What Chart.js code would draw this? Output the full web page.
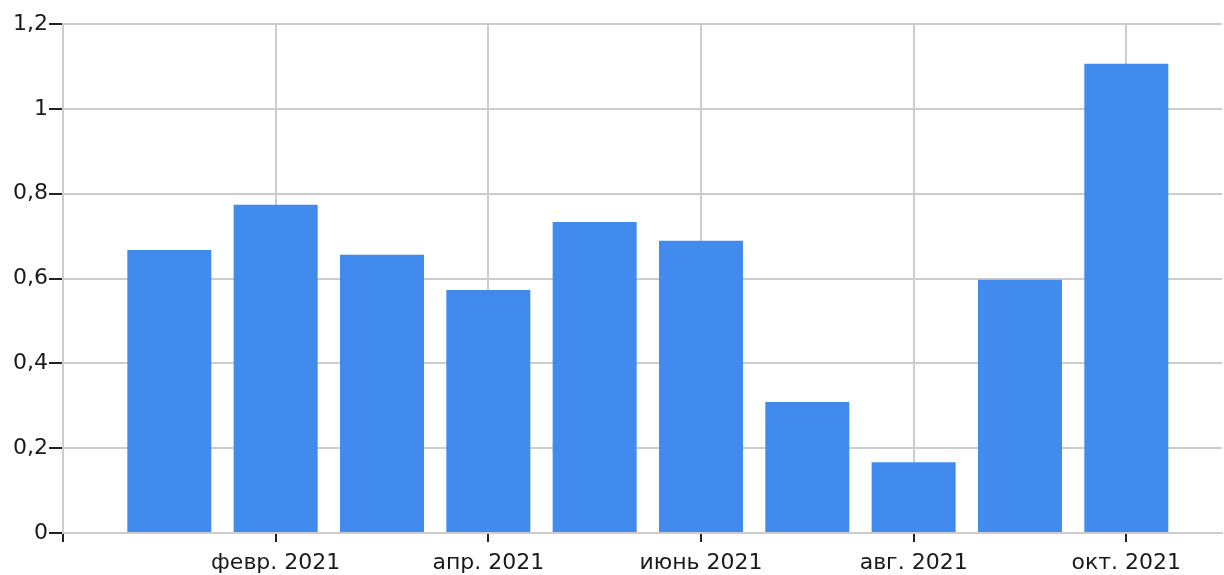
<!DOCTYPE html>
<html>
<head>
<meta charset="utf-8">
<script src="https://cdn.jsdelivr.net/npm/chart.js@4"></script>
<style>
  html, body { margin: 0; padding: 0; background: #fff; }
  #wrap { width: 1224px; height: 575px; }
</style>
</head>
<body>
<div id="wrap"><canvas id="barChart"></canvas></div>
<script>
'use strict';
// mois (index 0 = janv. 2021)
const mois = [0, 1, 2, 3, 4, 5, 6, 7, 8, 9];
const valeurs = [0.667, 0.774, 0.656, 0.573, 0.733, 0.689, 0.309, 0.167, 0.597, 1.106];
// ticks de l'axe x : position -> libellé
const ticksX = [-1, 1, 3, 5, 7, 9];
const labelsX = ['', 'февр. 2021', 'апр. 2021', 'июнь 2021', 'авг. 2021', 'окт. 2021'];
const ticksY = [0, 0.2, 0.4, 0.6, 0.8, 1, 1.2];

const police = { family: 'DejaVu Sans', size: 22 };

const ctx = document.getElementById('barChart').getContext('2d');
const barChart = new Chart(ctx, {
  type: 'bar',
  data: {
    datasets: [{
      data: mois.map((m, i) => ({ x: m, y: valeurs[i] })),
      backgroundColor: '#418bef',
      borderWidth: 0,
      barPercentage: 1,
      categoryPercentage: 0.79
    }]
  },
  options: {
    responsive: true,
    maintainAspectRatio: false,
    animation: false,
    layout: { padding: { top: 24, right: 2, left: 0, bottom: 0 } },
    plugins: { legend: { display: false }, tooltip: { enabled: false } },
    scales: {
      x: {
        type: 'linear',
        min: -1,
        max: 9.9,
        offset: false,
        afterFit: s => { s.height = 42; },
        afterBuildTicks: s => { s.ticks = ticksX.map(v => ({ value: v })); },
        ticks: {
          autoSkip: false,
          maxRotation: 0,
          padding: 8,
          color: '#1a1a1a',
          font: police,
          callback: v => labelsX[ticksX.indexOf(v)]
        },
        grid: { offset: false, color: '#cccccc', tickColor: '#222', tickLength: 9, lineWidth: 2 },
        border: { color: '#cccccc', width: 2 }
      },
      y: {
        min: 0,
        max: 1.2,
        afterFit: s => { s.width = 63; },
        afterBuildTicks: s => { s.ticks = ticksY.map(v => ({ value: v })); },
        ticks: {
          padding: 1,
          color: '#1a1a1a',
          font: police,
          callback: v => String(Math.round(v * 10) / 10).replace('.', ',')
        },
        grid: { color: '#cccccc', tickColor: '#222', tickLength: 14, lineWidth: 2 },
        border: { color: '#cccccc', width: 2 }
      }
    }
  }
});
</script>
</body>
</html>
